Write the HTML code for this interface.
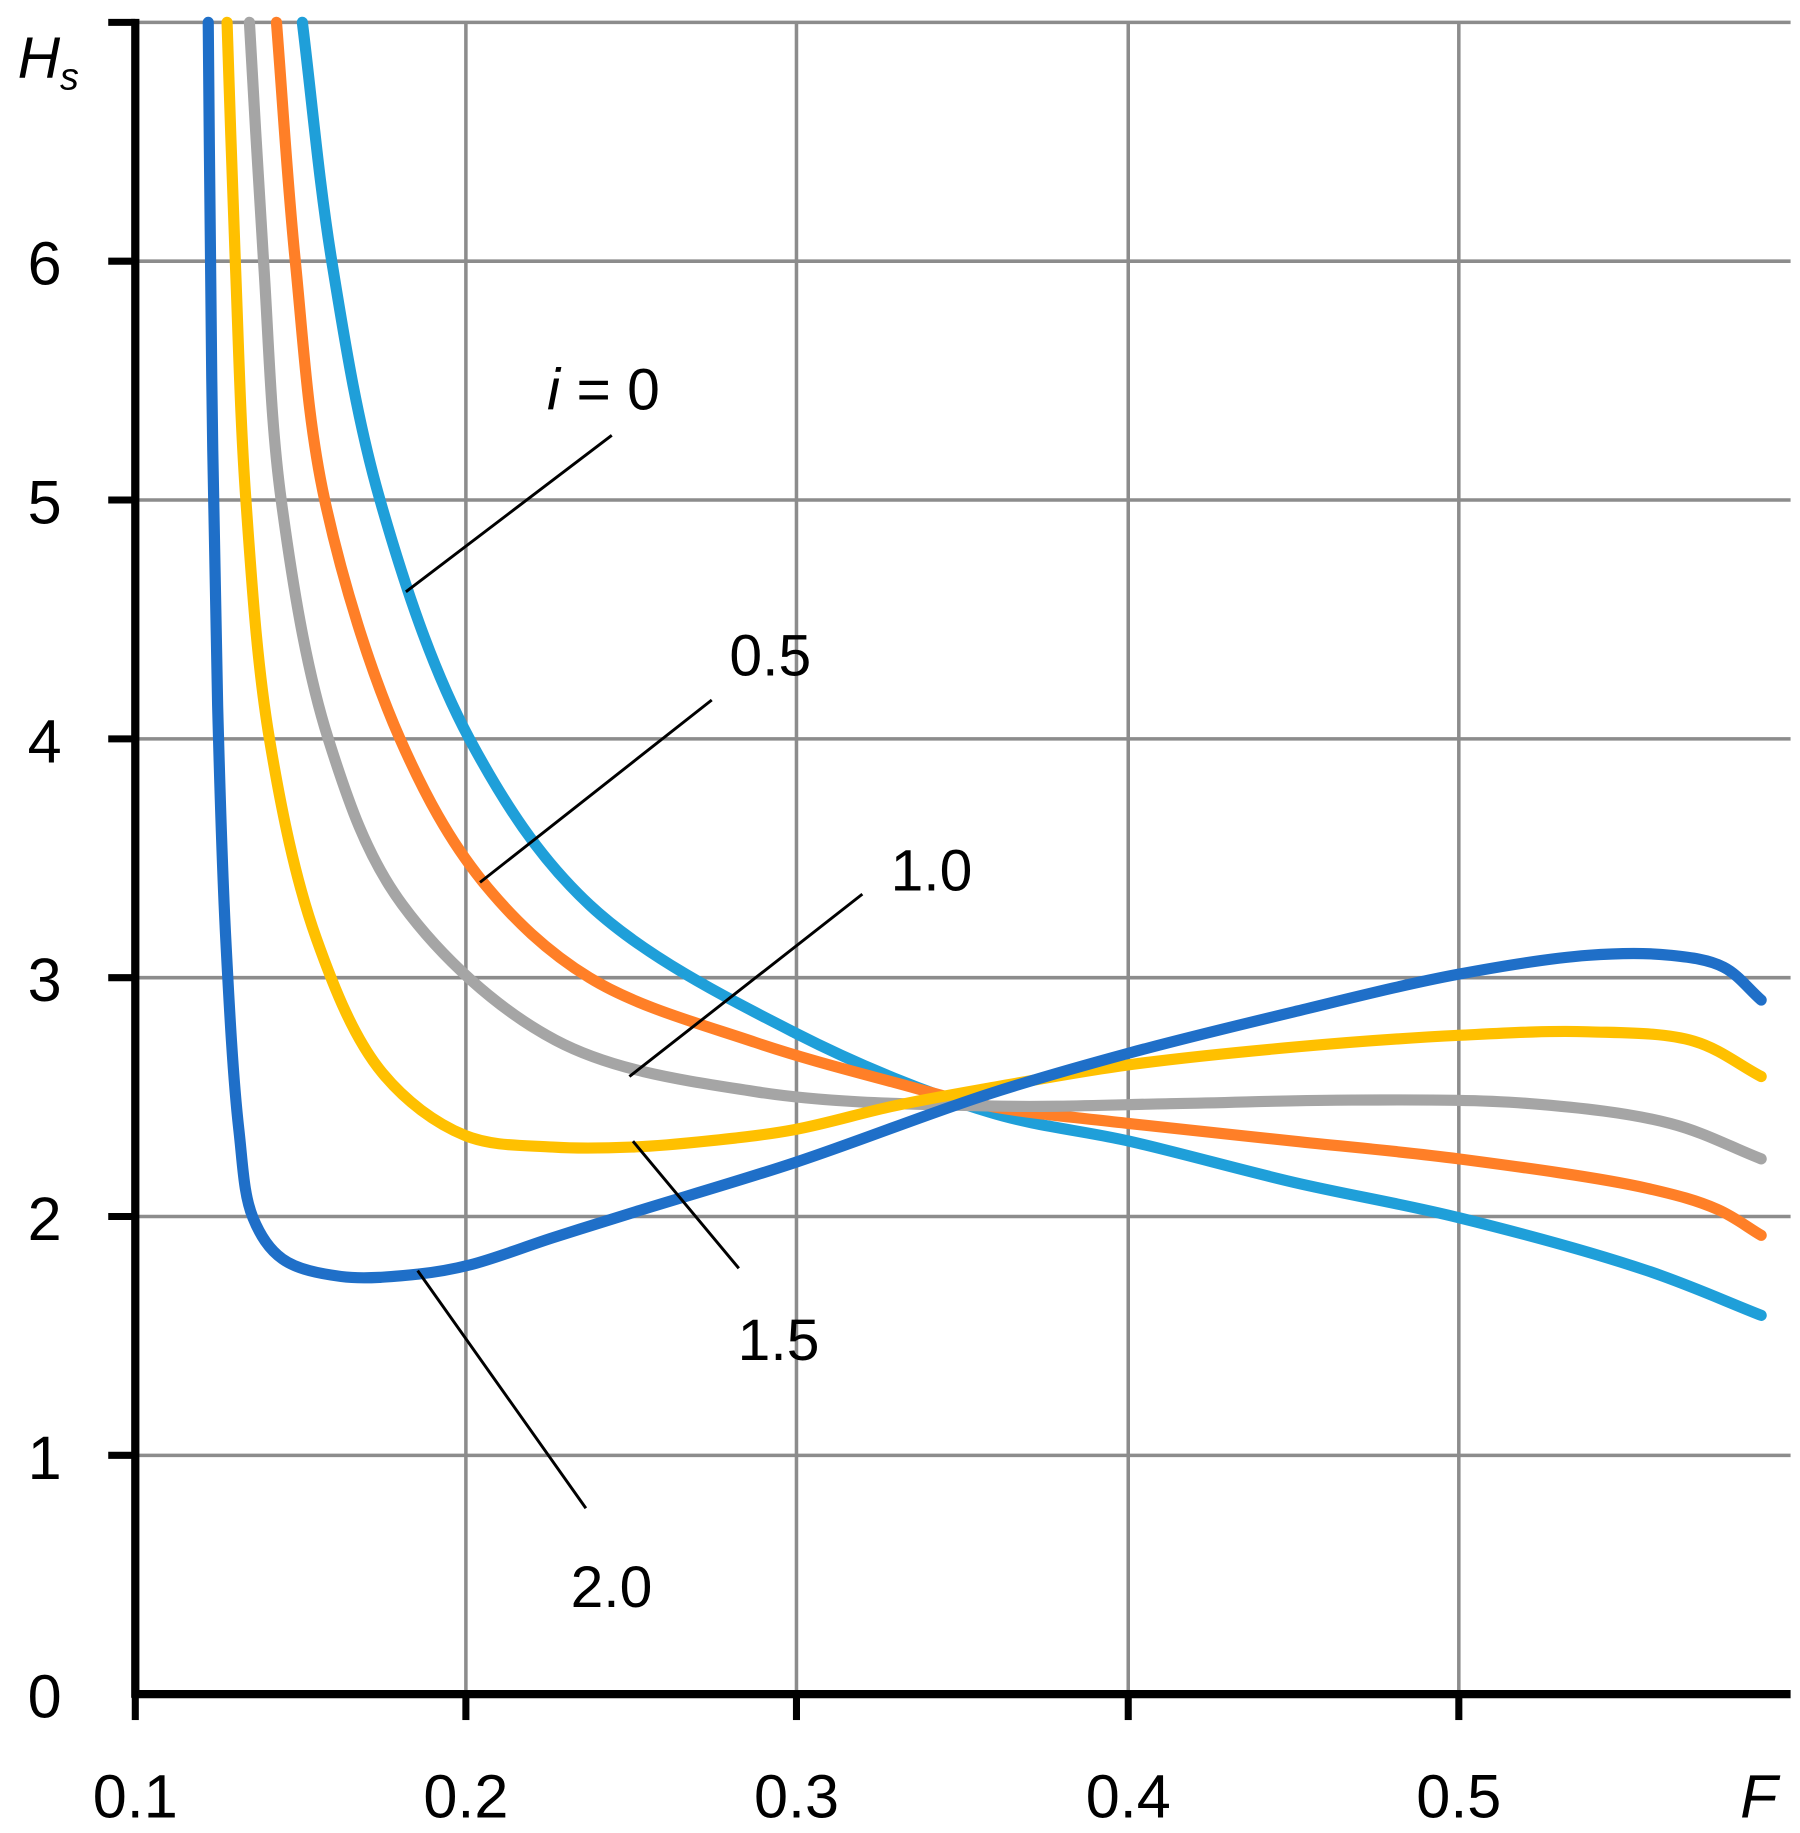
<!DOCTYPE html>
<html><head><meta charset="utf-8"><style>
html,body{margin:0;padding:0;background:#fff;}
svg{display:block;}
text{font-family:"Liberation Sans",sans-serif;fill:#000;}
</style></head><body>
<svg id="s" width="1800" height="1833" viewBox="0 0 1530 1558" preserveAspectRatio="none" xmlns="http://www.w3.org/2000/svg">
<rect width="1530" height="1558" fill="#fff"/>
<g stroke="#8c8c8c" stroke-width="3" fill="none">
<line x1="115" y1="19" x2="1522" y2="19"/>
<line x1="115" y1="222" x2="1522" y2="222"/>
<line x1="115" y1="425" x2="1522" y2="425"/>
<line x1="115" y1="628" x2="1522" y2="628"/>
<line x1="115" y1="831" x2="1522" y2="831"/>
<line x1="115" y1="1034" x2="1522" y2="1034"/>
<line x1="115" y1="1237" x2="1522" y2="1237"/>
<line x1="396" y1="19" x2="396" y2="1440"/>
<line x1="677" y1="19" x2="677" y2="1440"/>
<line x1="959" y1="19" x2="959" y2="1440"/>
<line x1="1240" y1="19" x2="1240" y2="1440"/>
</g>
<g fill="none" stroke-width="9.5" stroke-linecap="round" stroke-linejoin="round">
<path id="c0" stroke="#1F9FD9"/>
<path id="c1" stroke="#FF7F27"/>
<path id="c2" stroke="#A5A5A5"/>
<path id="c3" stroke="#FFC000"/>
<path id="c4" stroke="#1F6FC8"/>
</g>
<g stroke="#000" stroke-width="2.5">
<line x1="520" y1="370" x2="345" y2="503"/>
<line x1="605" y1="595" x2="408" y2="750"/>
<line x1="733" y1="760" x2="535" y2="915"/>
<line x1="538" y1="970" x2="628" y2="1078"/>
<line x1="355" y1="1080" x2="498" y2="1282"/>
</g>
<g stroke="#000" fill="none">
<line x1="115" y1="16" x2="115" y2="1443" stroke-width="7"/>
<line x1="112" y1="1440" x2="1522" y2="1440" stroke-width="7"/>
<g stroke-width="6">
<line x1="92" y1="19" x2="115" y2="19"/>
<line x1="92" y1="222" x2="115" y2="222"/>
<line x1="92" y1="425" x2="115" y2="425"/>
<line x1="92" y1="628" x2="115" y2="628"/>
<line x1="92" y1="831" x2="115" y2="831"/>
<line x1="92" y1="1034" x2="115" y2="1034"/>
<line x1="92" y1="1237" x2="115" y2="1237"/>
<line x1="115" y1="1440" x2="115" y2="1462"/>
<line x1="396" y1="1440" x2="396" y2="1462"/>
<line x1="677" y1="1440" x2="677" y2="1462"/>
<line x1="959" y1="1440" x2="959" y2="1462"/>
<line x1="1240" y1="1440" x2="1240" y2="1462"/>
</g>
</g>
<g font-size="52" text-anchor="middle">
<text x="38" y="242">6</text>
<text x="38" y="445">5</text>
<text x="38" y="648">4</text>
<text x="38" y="851">3</text>
<text x="38" y="1054">2</text>
<text x="38" y="1257">1</text>
<text x="38" y="1460">0</text>
<text x="115" y="1545">0.1</text>
<text x="396" y="1545">0.2</text>
<text x="677" y="1545">0.3</text>
<text x="959" y="1545">0.4</text>
<text x="1240" y="1545">0.5</text>
<text x="1495" y="1545" font-style="italic">F</text>
</g>
<g font-size="50">
<text x="15" y="66" font-style="italic">H</text><text x="51" y="76" font-size="32" font-style="italic">s</text>
<text x="465" y="348"><tspan font-style="italic">i</tspan> = 0</text>
<text x="620" y="574">0.5</text>
<text x="757" y="757">1.0</text>
<text x="627" y="1156">1.5</text>
<text x="485" y="1366">2.0</text>
</g>
</svg>
<script>
var D=[
[[257,19],[282,222],[323,425],[399,628],[501,769],[676,878],[840,945],[960,970],[1100,1005],[1240,1035],[1400,1080],[1497,1118]],
[[235,19],[251,222],[276,425],[340,628],[410,749],[501,831],[642,886],[760,920],[840,940],[960,955],[1100,970],[1240,985],[1400,1010],[1460,1028],[1497,1050]],
[[212,19],[224,222],[239,425],[279,628],[342,769],[472,884],[643,928],[840,940],[1000,938],[1150,935],[1300,938],[1420,955],[1497,985]],
[[193,19],[200,222],[209,425],[229,628],[269,798],[325,912],[395,965],[470,975],[537,975],[600,970],[676,960],[760,940],[840,925],[960,905],[1100,890],[1240,880],[1350,877],[1440,885],[1497,915]],
[[177,19],[180,322],[185,600],[192,800],[203,960],[215,1035],[240,1070],[290,1085],[355,1083],[400,1075],[470,1052],[540,1030],[676,988],[840,930],[960,895],[1100,860],[1240,828],[1350,812],[1420,812],[1465,822],[1497,850]]
];
function dist(a,b){return Math.pow(Math.hypot(b[0]-a[0],b[1]-a[1]),0.5);}
D.forEach(function(p,k){
 var n=p.length;
 var s=[[2*p[0][0]-p[1][0],2*p[0][1]-p[1][1]]].concat(p).concat([[2*p[n-1][0]-p[n-2][0],2*p[n-1][1]-p[n-2][1]]]);
 var d="M"+p[0][0]+","+p[0][1];
 for(var i=1;i<s.length-2;i++){
  var P0=s[i-1],P1=s[i],P2=s[i+1],P3=s[i+2];
  var d1=dist(P0,P1),d2=dist(P1,P2),d3=dist(P2,P3);
  var c1=[],c2=[];
  for(var j=0;j<2;j++){
   c1[j]=(d1*d1*P2[j]-d2*d2*P0[j]+(2*d1*d1+3*d1*d2+d2*d2)*P1[j])/(3*d1*(d1+d2));
   c2[j]=(d3*d3*P1[j]-d2*d2*P3[j]+(2*d3*d3+3*d3*d2+d2*d2)*P2[j])/(3*d3*(d3+d2));
  }
  d+=" C"+c1[0].toFixed(1)+","+c1[1].toFixed(1)+" "+c2[0].toFixed(1)+","+c2[1].toFixed(1)+" "+P2[0]+","+P2[1];
 }
 document.getElementById("c"+k).setAttribute("d",d);
});
</script>
</body></html>
